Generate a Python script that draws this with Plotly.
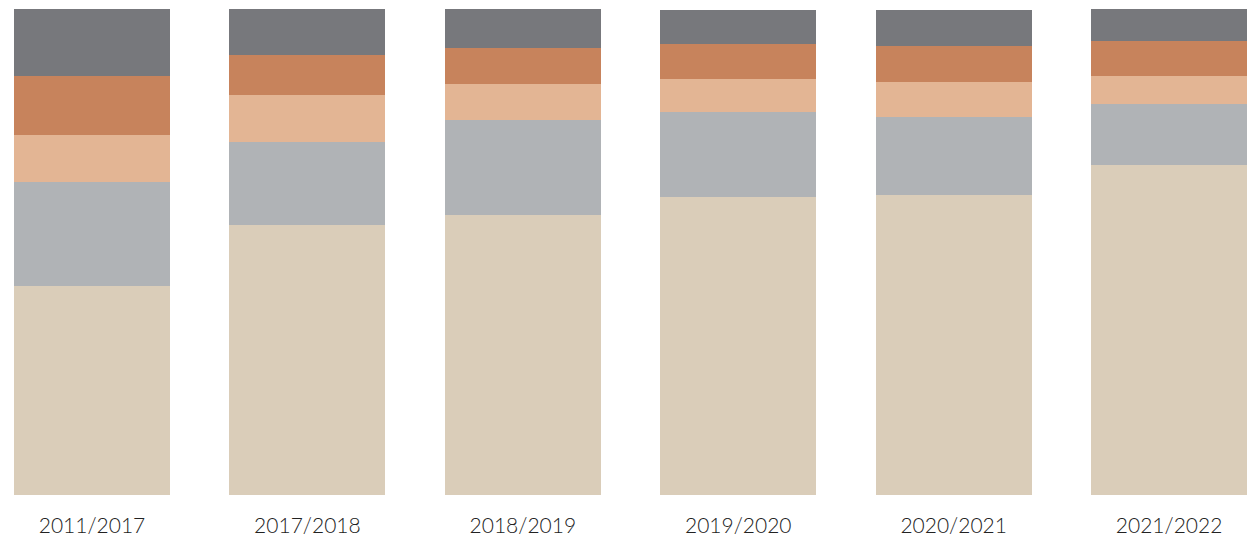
import plotly.graph_objects as go

categories = ["2011/2017", "2017/2018", "2018/2019", "2019/2020", "2020/2021", "2021/2022"]
seg1 = [43.0, 55.5, 57.6, 61.3, 61.7, 67.9]   # beige (bottom)
seg2 = [21.4, 17.1, 19.5, 17.5, 16.0, 12.6]   # silver
seg3 = [9.7, 9.7, 7.4, 6.8, 7.2, 5.8]         # light peach
seg4 = [12.1, 8.2, 7.4, 7.2, 7.4, 7.2]        # orange
seg5 = [13.8, 9.5, 8.0, 7.0, 7.4, 6.4]        # dark grey (top)

series = [seg1, seg2, seg3, seg4, seg5]
colors = ["#dacdb9", "#b0b3b6", "#e3b594", "#c7835c", "#77787c"]

fig = go.Figure()
for vals, col in zip(series, colors):
    fig.add_trace(go.Bar(x=list(range(len(categories))), y=vals, marker=dict(color=col, line=dict(width=0)),
                         width=0.724, showlegend=False))

fig.update_layout(
    barmode="stack",
    width=1249, height=536,
    margin=dict(l=0, r=0, t=0, b=41),
    paper_bgcolor="white", plot_bgcolor="white",
    xaxis=dict(tickmode="array", tickvals=list(range(len(categories))), ticktext=categories,
               range=[-0.427, 5.371], showgrid=False, zeroline=False, showline=False,
               ticks="", ticklabelstandoff=16,
               tickfont=dict(family="Lato", size=21, color="#222222", weight=300)),
    yaxis=dict(range=[0, 101.85], visible=False),
)
fig.write_html("out.html")
